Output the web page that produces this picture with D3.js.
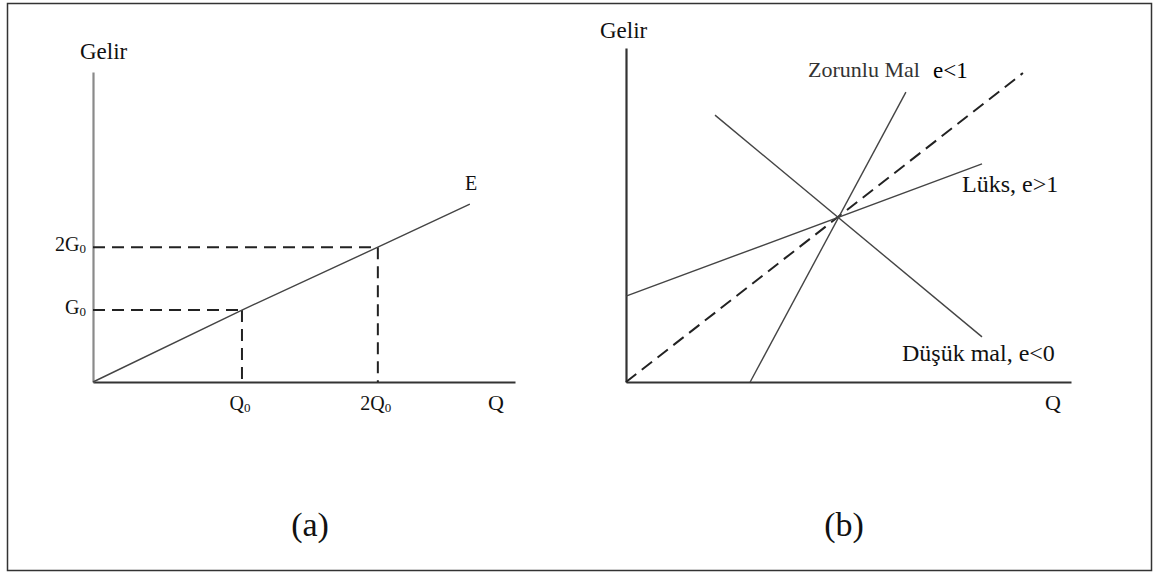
<!DOCTYPE html>
<html>
<head>
<meta charset="utf-8">
<script src="https://cdn.jsdelivr.net/npm/d3@7"></script>
<style>
  html, body { margin: 0; padding: 0; background: #fff; }
  svg { display: block; }
</style>
</head>
<body>
<svg id="chart" width="1158" height="572"></svg>
<script>
// ---- Panel (a): Engel curve E (axis units 0–100) ----
const engelQ = [0, 35.3, 67.5, 89.3];
const engelG = [0, 23.2, 43.5, 57.4];
// reference points
const refQ = [35.3, 67.5];
const refG = [23.2, 43.5];
const qTickLabels = [["Q", "0"], ["2Q", "0"]];
const gTickLabels = [["G", "0"], ["2G", "0"]];

// ---- Panel (b): Engel curves by good type (axis units 0–100) ----
const unitQ = [0, 89.2];        // e = 1 reference (dashed)
const unitG = [0, 92.5];
const luksQ = [0, 80.0];        // luxury, e > 1
const luksG = [25.7, 65.3];
const zorunluQ = [27.9, 62.9];  // necessity, e < 1
const zorunluG = [0, 86.8];
const dusukQ = [20.0, 80.0];    // inferior, e < 0
const dusukG = [79.9, 13.5];

const SERIF = "'Liberation Serif', 'Times New Roman', Times, 'DejaVu Serif', serif";

const svg = d3.select("#chart");

// outer frame
svg.append("rect")
  .attr("x", 7.5).attr("y", 3.5)
  .attr("width", 1144).attr("height", 567)
  .attr("fill", "none").attr("stroke", "#333").attr("stroke-width", 1.5);

const xa = d3.scaleLinear().domain([0, 100]).range([93, 515]);
const ya = d3.scaleLinear().domain([0, 100]).range([382, 72]);
const xb = d3.scaleLinear().domain([0, 100]).range([626, 1071]);
const yb = d3.scaleLinear().domain([0, 100]).range([382, 48]);

function drawAxes(x, y, yColor) {
  const gx = svg.append("g").attr("transform", `translate(0,${y(0)})`)
    .call(d3.axisBottom(x).tickValues([]).tickSizeOuter(0));
  gx.select(".domain").attr("stroke", "#333").attr("stroke-width", 2);
  const gy = svg.append("g").attr("transform", `translate(${x(0)},0)`)
    .call(d3.axisLeft(y).tickValues([]).tickSizeOuter(0));
  gy.select(".domain").attr("stroke", yColor).attr("stroke-width", 2.2);
}

function zipPts(qs, gs) { return qs.map((q, i) => [q, gs[i]]); }

function drawLine(x, y, qs, gs, opts) {
  const line = d3.line().x(d => x(d[0])).y(d => y(d[1]));
  svg.append("path")
    .attr("d", line(zipPts(qs, gs)))
    .attr("fill", "none")
    .attr("stroke", opts.color || "#444")
    .attr("stroke-width", opts.width || 1.3)
    .attr("stroke-dasharray", opts.dash || null);
}

function subLabel(x, y, parts, anchor, size) {
  const t = svg.append("text")
    .attr("x", x).attr("y", y)
    .attr("text-anchor", anchor)
    .attr("font-family", SERIF)
    .attr("font-size", size)
    .attr("fill", "#111");
  t.append("tspan").text(parts[0]);
  t.append("tspan").attr("dy", 2).attr("font-size", Math.round(size * 0.65)).text(parts[1]);
  return t;
}

function label(x, y, str, size, anchor, color) {
  return svg.append("text")
    .attr("x", x).attr("y", y)
    .attr("text-anchor", anchor || "start")
    .attr("font-family", SERIF)
    .attr("font-size", size)
    .attr("fill", color || "#111")
    .text(str);
}

// ---------- Panel (a) ----------
drawAxes(xa, ya, "#8a8a8a");

// dashed guides from the curve to both axes
refQ.forEach((q, i) => {
  const g = refG[i];
  drawLine(xa, ya, [0, q], [g, g], { color: "#222", width: 2, dash: "12,7" });
  drawLine(xa, ya, [q, q], [g, 0], { color: "#222", width: 2, dash: "12,7" });
});

drawLine(xa, ya, engelQ, engelG, { color: "#444", width: 1.4 });

label(80, 59, "Gelir", 23);
label(465, 190, "E", 20);
label(488, 410, "Q", 22);
refQ.forEach((q, i) => subLabel(xa(q) - 2, 410, qTickLabels[i], "middle", 20));
refG.forEach((g, i) => subLabel(86, ya(g) + 4, gTickLabels[i], "end", 20));

// ---------- Panel (b) ----------
drawAxes(xb, yb, "#333");

drawLine(xb, yb, unitQ, unitG, { color: "#222", width: 2, dash: "13,7" });
drawLine(xb, yb, luksQ, luksG, { color: "#444", width: 1.4 });
drawLine(xb, yb, zorunluQ, zorunluG, { color: "#444", width: 1.4 });
drawLine(xb, yb, dusukQ, dusukG, { color: "#444", width: 1.4 });

label(600, 38, "Gelir", 23);
label(808, 77, "Zorunlu Mal", 22, "start", "#333");
label(933, 78, "e<1", 23, "start", "#000");
label(962, 192, "Lüks, e>1", 24);
label(902, 361, "Düşük mal, e<0", 24);
label(1045, 410, "Q", 22);

// panel captions
label(310, 536, "(a)", 34, "middle");
label(844, 536, "(b)", 34, "middle");
</script>
</body>
</html>
